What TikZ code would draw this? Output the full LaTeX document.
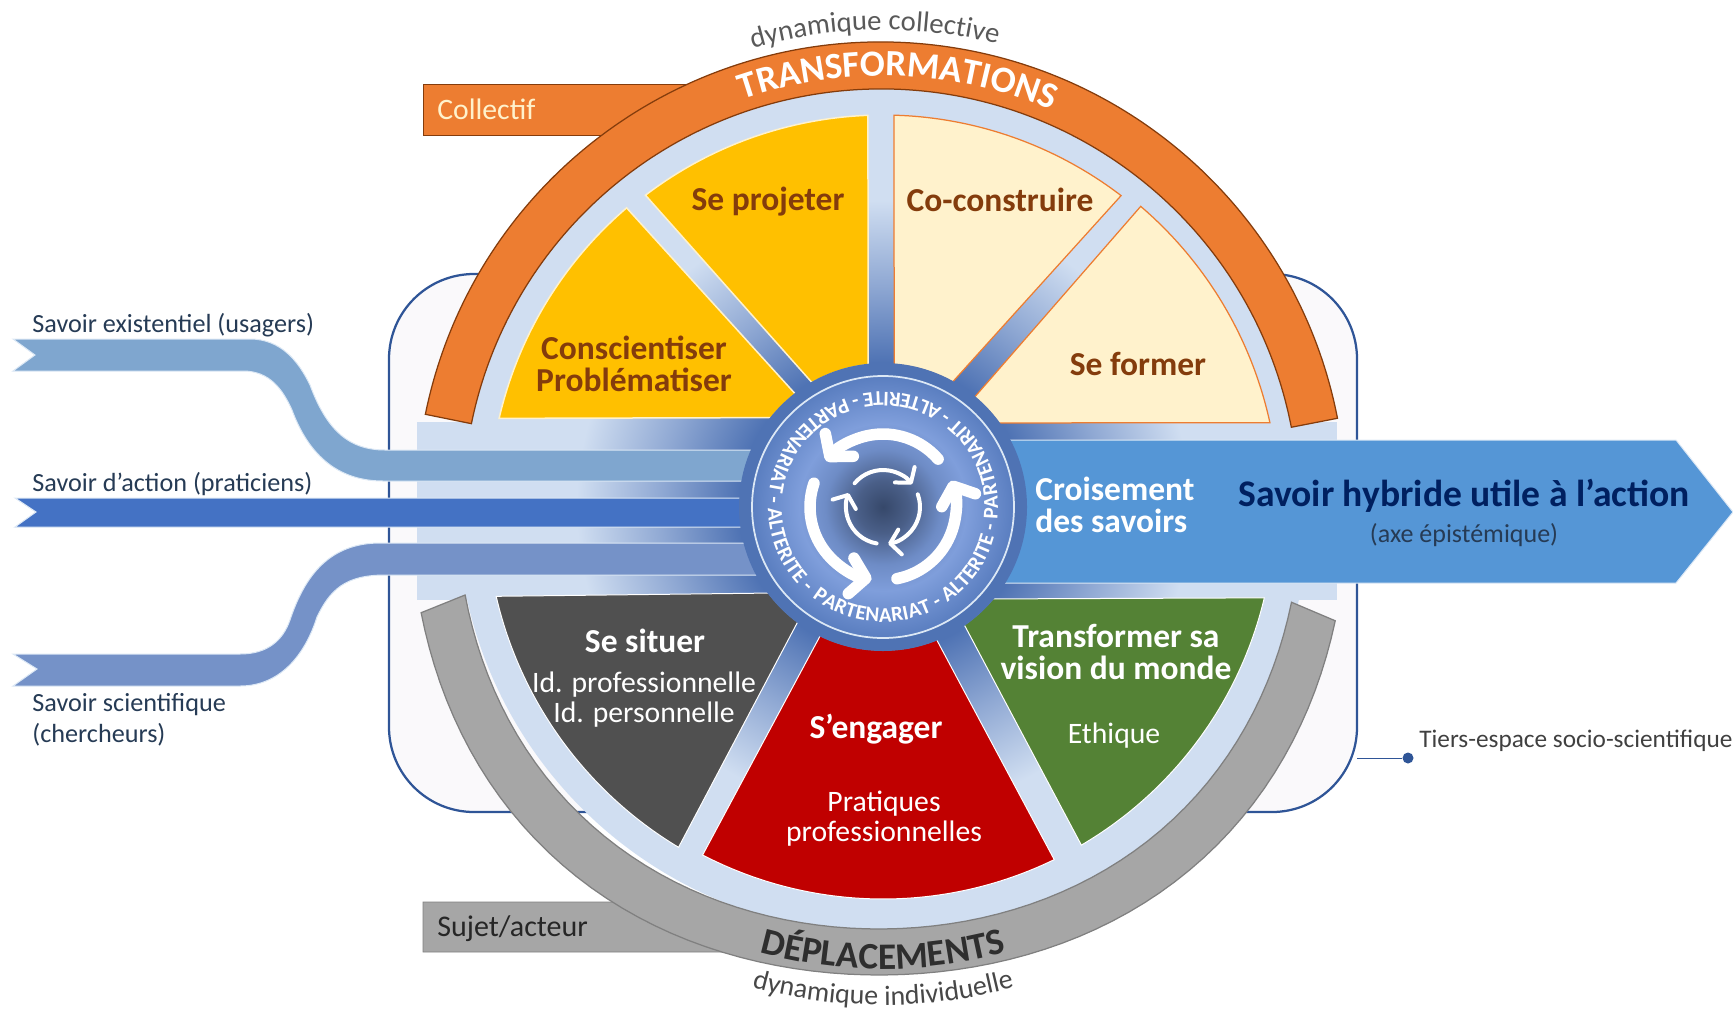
\documentclass[tikz,border=0pt]{standalone}
\usepackage{fontspec}
\usepackage{xcolor}
\setmainfont{Carlito}
\usetikzlibrary{arrows.meta}
\usetikzlibrary{decorations.text}
\definecolor{framefill}{HTML}{FAF9FB}
\definecolor{frameline}{HTML}{2F5597}
\definecolor{spokelight}{HTML}{D0DEF1}
\definecolor{spokemid}{HTML}{8FA8D3}
\definecolor{spokedark}{HTML}{4F73B4}
\definecolor{ringorange}{HTML}{ED7D31}
\definecolor{ringedge}{HTML}{843C0C}
\definecolor{ringgrey}{HTML}{A6A6A6}
\definecolor{ribbontop}{HTML}{7FA6CF}
\definecolor{ribbonmid}{HTML}{4472C4}
\definecolor{ribbonlow}{HTML}{7592C8}
\definecolor{hybridblue}{HTML}{5596D6}
\definecolor{ribbonedge}{HTML}{DCE8F5}
\definecolor{warmtext}{HTML}{843C0C}
\definecolor{darkblue}{HTML}{002060}
\definecolor{caption}{HTML}{263B55}
\definecolor{sectoryellow}{HTML}{FFC000}
\definecolor{sectorcream}{HTML}{FFF2CC}
\definecolor{sectorslate}{HTML}{505050}
\definecolor{sectorred}{HTML}{C00000}
\definecolor{sectorgreen}{HTML}{548235}
\definecolor{wheelcoreA}{HTML}{36486A}
\definecolor{wheelcoreB}{HTML}{4A5F88}
\definecolor{wheelcoreC}{HTML}{6E8CC6}
\definecolor{wheelcoreD}{HTML}{7F9EDB}
\definecolor{wheelcoreE}{HTML}{5A7EC0}
\pgfdeclareradialshading{wheelback}{\pgfpointorigin}{color(0bp)=(spokedark); color(8.5bp)=(spokedark); color(13bp)=(spokemid); color(18bp)=(spokelight); color(50bp)=(spokelight)}
\pgfdeclareradialshading{wheelcore}{\pgfpointorigin}{color(0bp)=(wheelcoreA); color(5bp)=(wheelcoreB); color(11bp)=(wheelcoreC); color(16bp)=(wheelcoreD); color(25bp)=(wheelcoreE); color(50bp)=(wheelcoreE)}
\newcommand{\pxsize}[2]{\fontsize{\fpeval{#1*0.569}}{\fpeval{#2*0.569}}\selectfont}
\tikzset{wheel/.style = {shift = {(883, 507)}, x = 0.02cm, y = 0.02cm}}
\tikzset{warm/.style = {fill = sectoryellow, draw = sectorcream, line width = 0.3mm}}
\tikzset{cream/.style = {fill = sectorcream, draw = ringorange, line width = 0.25mm}}
\tikzset{slate/.style = {fill = sectorslate, draw = white, line width = 0.2mm}}
\tikzset{crimson/.style = {fill = sectorred, draw = white, line width = 0.2mm}}
\tikzset{forest/.style = {fill = sectorgreen, draw = white, line width = 0.2mm}}
\tikzset{sectorhead/.style = {font = \pxsize{33.5}{32}\bfseries, align = center, inner sep = 0}}
\tikzset{sectorbody/.style = {font = \pxsize{29.7}{30}, align = center, inner sep = 0, text = white}}
\tikzset{sidetext/.style = {font = \pxsize{26.2}{31}, align = left, inner sep = 0, anchor = west, text = caption}}
\tikzset{ribbon/.style = {draw = ribbonedge, line width = 0.2mm}}
\tikzset{bigturn/.style = {draw = white, line width = 0.23cm, line cap = round, -{Straight Barb[length = 0.3cm, width = 0.72cm, round]}}}
\tikzset{smallturn/.style = {draw = white, line width = 0.08cm, line cap = round, -{Straight Barb[length = 0.2cm, width = 0.5cm, round]}}}
\begin{document}
\begin{tikzpicture}[x = 0.02cm, y = -0.02cm]
  \useasboundingbox (0, 0) rectangle (1733, 1011);

  \draw [frameline, fill = framefill, line width = 0.45mm, rounded corners = 1.7cm] (389, 274) rectangle (1357, 812);
  \fill [spokelight] (417, 422) rectangle (1337, 600);

  \fill [ringorange, draw = ringedge] (423, 84) rectangle (688, 135);
  \fill [ringgrey, draw = gray] (423, 902) -- (700, 902) -- (745, 952) -- (423, 952) -- cycle;

  \begin{scope}[wheel]
    \shade [shading = wheelback] (0, 0) circle (426);
    \draw [fill = ringorange, draw = ringedge, line width = 0.25mm, xshift = -0.04cm] (168.5:465) arc[start angle = 168.5, end angle = 11, radius = 465] -- (11:418) arc[start angle = 11, end angle = 168.5, radius = 418] -- cycle;
    \draw [fill = ringgrey, draw = gray, line width = 0.25mm, xshift = -0.08cm] plot [domain = 193:346, samples = 70] ({(468 + 10 * sin(2 * (\x - 270))^2) * cos(\x)}, {(468 + 10 * sin(2 * (\x - 270))^2) * sin(\x)}) -- plot [domain = 347:192, samples = 70] ({(422 + 7 * sin(2 * (\x - 270))^2) * cos(\x)}, {(422 + 7 * sin(2 * (\x - 270))^2) * sin(\x)}) -- cycle;

    \foreach \oa/\ob/\rr/\ia/\ib/\sty in {167/130.6/394/127.8/141.3/warm, 127.3/92.2/392/96/119.7/warm, 88.4/52.6/392/60.9/85.5/cream, 49.4/12.3/396/36/50.2/cream, 193/239/397/233.4/217/slate, 242.6/295.9/392/292/244/crimson, 300.4/346.6/392/320/304.6/forest} {
      \draw [\sty] (\oa:\rr) arc[start angle = \oa, end angle = \ob, radius = \rr] -- (\ia:143) arc[start angle = \ia, end angle = \ib, radius = 143] -- cycle;
    }
  \end{scope}

  \fill [ribbontop, ribbon] (13, 339) -- (250, 339) .. controls (280, 339) and (298, 360) .. (310, 385) .. controls (325, 425) and (345, 450) .. (385, 450) -- (770, 450) -- (770, 481) -- (383, 481) .. controls (330, 481) and (305, 445) .. (292, 410) .. controls (283, 390) and (270, 371) .. (243, 371) -- (13, 371) -- (35, 355) -- cycle;
  \fill [ribbonmid, ribbon] (15, 498) -- (770, 498) -- (770, 527) -- (15, 527) -- (36, 512) -- cycle;
  \fill [ribbonlow, ribbon] (13, 654) -- (240, 654) .. controls (268, 654) and (283, 640) .. (290, 620) .. controls (305, 575) and (330, 543) .. (380, 543) -- (770, 543) -- (770, 575) -- (385, 575) .. controls (345, 575) and (330, 590) .. (317, 617) .. controls (305, 655) and (280, 686) .. (240, 686) -- (13, 686) -- (37, 669) -- cycle;
  \fill [hybridblue, ribbon] (883, 440) -- (1676, 440) -- (1733, 512) -- (1676, 583) -- (883, 583) -- cycle;

  \begin{scope}[wheel]
    \fill [spokedark] (0, 0) circle (144);
    \shade [shading = wheelcore, draw = ribbonedge, line width = 0.35mm] (0, 0) circle (131);
    \foreach \r in {0, 120, 240} {
      \draw [bigturn] (41 + \r:73) arc[start angle = 41 + \r, delta angle = 100, radius = 73];
      \draw [smallturn] (140 + \r:37) arc[start angle = 140 + \r, delta angle = -102, radius = 37];
    }
    \path [decorate, decoration = {text along path, text color = white, text align = fit to path, text = {|\pxsize{21}{21}\bfseries|PARTENARIAT - ALTERITE - PARTENARIT - ALTERITE - PARTENARIAT - ALTERITE -}}] (232:115) arc[start angle = 232, end angle = 588, radius = 115];
    \path [decorate, decoration = {text along path, text color = white, text align = center, text = {|\pxsize{37}{37}\bfseries|TRANSFORMATIONS}}] (118:431) arc[start angle = 118, end angle = 58, radius = 431];
    \path [decorate, decoration = {text along path, text color = black!82, text align = center, text = {|\pxsize{37.4}{37}\bfseries|DÉPLACEMENTS}}] (240:462) arc[start angle = 240, end angle = 300, radius = 462];
    \path [decorate, decoration = {text along path, text color = black!65, text align = center, text = {|\pxsize{28.7}{29}|dynamique collective}}] (111:477) arc[start angle = 111, end angle = 71, radius = 477];
    \path [decorate, decoration = {text along path, text color = black!72, text align = center, text = {|\pxsize{28}{28}|dynamique individuelle}}] (250:498) arc[start angle = 250, end angle = 290, radius = 498];
  \end{scope}

  \node [sectorhead, text = warmtext] (conscientiser) at (634, 364) {Conscientiser\\Problématiser};
  \node [sectorhead, text = warmtext] (projeter) at (768, 202) {Se projeter};
  \node [sectorhead, text = warmtext] (construire) at (1000, 200) {Co-construire};
  \node [sectorhead, text = warmtext] (former) at (1138, 364) {Se former};
  \node [sectorhead, text = white] (situer) at (645, 641) {Se situer};
  \node [sectorbody] (identites) at (644, 700) {Id. professionnelle\\Id. personnelle};
  \node [sectorhead, text = white] (engager) at (876, 729) {S’engager};
  \node [sectorbody] (pratiques) at (884, 819) {Pratiques\\professionnelles};
  \node [sectorhead, text = white] (vision) at (1116, 652) {Transformer sa\\vision du monde};
  \node [sectorbody] (ethique) at (1114, 736) {Ethique};
  \node [sectorhead, text = white, align = left, anchor = west] (croisement) at (1035, 505) {Croisement\\des savoirs};
  \node [font = \pxsize{37.6}{38}\bfseries, text = darkblue, inner sep = 0] (hybride) at (1464, 496) {Savoir hybride utile à l’action};
  \node [font = \pxsize{26}{26}, text = caption, inner sep = 0] (axe) at (1464, 535) {(axe épistémique)};

  \node [sidetext] (existentiel) at (32, 325) {Savoir existentiel (usagers)};
  \node [sidetext] (action) at (32, 484) {Savoir d’action (praticiens)};
  \node [sidetext] (scientifique) at (32, 720) {Savoir scientifique\\(chercheurs)};
  \node [sidetext, font = \pxsize{29.7}{30}, text = sectorcream] (collectif) at (437, 109) {Collectif};
  \node [sidetext, font = \pxsize{30}{30}, text = black!85] (sujet) at (437, 929) {Sujet/acteur};
  \node [sidetext, font = \pxsize{25.3}{30}, text = black!75] (tiers) at (1419, 741) {Tiers-espace socio-scientifique};

  \coordinate (frameedge) at (1357, 758);
  \node [circle, fill = frameline, minimum size = 0.22cm, inner sep = 0] (tiersdot) at (1408, 758) {};
  \draw [frameline, line width = 0.2mm] (frameedge) -- (tiersdot);
\end{tikzpicture}
\end{document}
